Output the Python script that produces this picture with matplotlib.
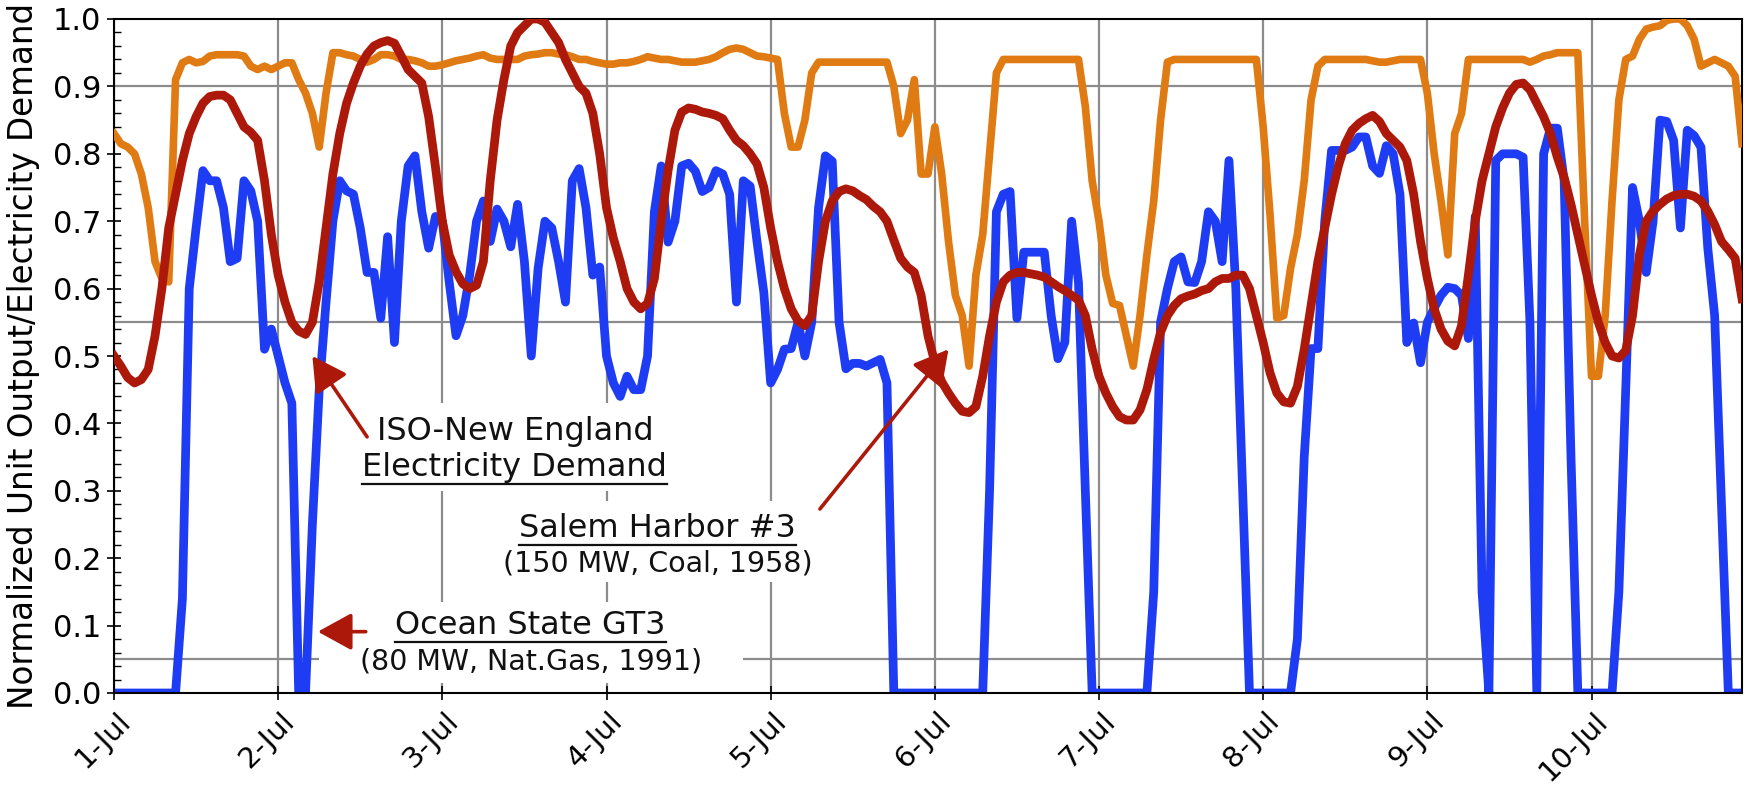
import numpy as np
import matplotlib
matplotlib.use("Agg")
import matplotlib.pyplot as plt
import matplotlib.transforms as mtransforms
from matplotlib.patches import Rectangle
from matplotlib.lines import Line2D
from matplotlib.ticker import MultipleLocator

# hourly values starting 1-Jul 00:00, one row per day
demand = [
    0.50, 0.485, 0.468, 0.46, 0.465, 0.48, 0.53, 0.60, 0.69, 0.74, 0.79, 0.83, 0.855, 0.875, 0.885, 0.887, 0.887, 0.88, 0.86, 0.84, 0.832, 0.82, 0.76, 0.68,
    0.62, 0.58, 0.55, 0.537, 0.532, 0.55, 0.61, 0.69, 0.77, 0.83, 0.875, 0.905, 0.93, 0.948, 0.96, 0.965, 0.968, 0.964, 0.945, 0.925, 0.915, 0.905, 0.855, 0.78,
    0.70, 0.65, 0.625, 0.607, 0.60, 0.605, 0.64, 0.76, 0.85, 0.91, 0.96, 0.98, 0.99, 1.0, 1.0, 0.995, 0.98, 0.965, 0.94, 0.92, 0.90, 0.89, 0.86, 0.80,
    0.72, 0.675, 0.64, 0.60, 0.58, 0.57, 0.578, 0.615, 0.70, 0.775, 0.835, 0.862, 0.868, 0.866, 0.862, 0.86, 0.857, 0.852, 0.835, 0.82, 0.812, 0.80, 0.785, 0.75,
    0.69, 0.64, 0.60, 0.57, 0.552, 0.545, 0.56, 0.64, 0.70, 0.73, 0.744, 0.748, 0.745, 0.738, 0.732, 0.722, 0.714, 0.70, 0.672, 0.645, 0.632, 0.624, 0.59, 0.53,
    0.49, 0.462, 0.445, 0.43, 0.418, 0.416, 0.425, 0.47, 0.53, 0.58, 0.61, 0.62, 0.624, 0.624, 0.622, 0.62, 0.617, 0.61, 0.603, 0.597, 0.59, 0.583, 0.56, 0.51,
    0.47, 0.445, 0.425, 0.41, 0.405, 0.405, 0.42, 0.45, 0.495, 0.535, 0.56, 0.575, 0.585, 0.589, 0.592, 0.597, 0.60, 0.61, 0.615, 0.615, 0.62, 0.62, 0.60, 0.56,
    0.52, 0.475, 0.445, 0.432, 0.43, 0.455, 0.51, 0.575, 0.64, 0.69, 0.74, 0.782, 0.815, 0.835, 0.845, 0.852, 0.857, 0.848, 0.83, 0.82, 0.81, 0.79, 0.74, 0.67,
    0.615, 0.57, 0.54, 0.522, 0.515, 0.545, 0.62, 0.70, 0.76, 0.80, 0.84, 0.868, 0.89, 0.903, 0.905, 0.895, 0.875, 0.855, 0.83, 0.795, 0.765, 0.725, 0.68, 0.635,
    0.59, 0.55, 0.52, 0.50, 0.497, 0.508, 0.56, 0.65, 0.70, 0.715, 0.725, 0.733, 0.738, 0.74, 0.74, 0.737, 0.73, 0.715, 0.695, 0.67, 0.658, 0.645, 0.585,
]

salem = [
    0.83, 0.815, 0.81, 0.80, 0.77, 0.72, 0.64, 0.615, 0.61, 0.91, 0.935, 0.94, 0.935, 0.937, 0.945, 0.947, 0.947, 0.947, 0.947, 0.945, 0.93, 0.925, 0.93, 0.925,
    0.93, 0.935, 0.935, 0.91, 0.89, 0.86, 0.81, 0.89, 0.95, 0.95, 0.947, 0.945, 0.94, 0.936, 0.94, 0.947, 0.947, 0.945, 0.94, 0.94, 0.938, 0.935, 0.93, 0.93,
    0.932, 0.935, 0.938, 0.94, 0.942, 0.945, 0.947, 0.942, 0.94, 0.94, 0.94, 0.94, 0.945, 0.947, 0.948, 0.95, 0.95, 0.948, 0.947, 0.944, 0.94, 0.94, 0.937, 0.935,
    0.933, 0.933, 0.935, 0.935, 0.937, 0.94, 0.944, 0.942, 0.94, 0.94, 0.938, 0.936, 0.936, 0.936, 0.938, 0.94, 0.944, 0.95, 0.955, 0.957, 0.955, 0.95, 0.945, 0.944,
    0.942, 0.94, 0.86, 0.81, 0.81, 0.85, 0.92, 0.936, 0.936, 0.936, 0.936, 0.936, 0.936, 0.936, 0.936, 0.936, 0.936, 0.936, 0.90, 0.83, 0.85, 0.91, 0.77, 0.77,
    0.84, 0.77, 0.67, 0.59, 0.56, 0.485, 0.62, 0.68, 0.80, 0.92, 0.94, 0.94, 0.94, 0.94, 0.94, 0.94, 0.94, 0.94, 0.94, 0.94, 0.94, 0.94, 0.87, 0.76,
    0.70, 0.62, 0.578, 0.575, 0.53, 0.485, 0.56, 0.65, 0.73, 0.85, 0.936, 0.94, 0.94, 0.94, 0.94, 0.94, 0.94, 0.94, 0.94, 0.94, 0.94, 0.94, 0.94, 0.94,
    0.84, 0.71, 0.556, 0.56, 0.63, 0.68, 0.76, 0.88, 0.93, 0.94, 0.94, 0.94, 0.94, 0.94, 0.94, 0.94, 0.938, 0.936, 0.936, 0.938, 0.94, 0.94, 0.94, 0.94,
    0.89, 0.80, 0.73, 0.65, 0.83, 0.86, 0.94, 0.94, 0.94, 0.94, 0.94, 0.94, 0.94, 0.94, 0.94, 0.936, 0.94, 0.945, 0.947, 0.95, 0.95, 0.95, 0.95, 0.70,
    0.47, 0.47, 0.56, 0.73, 0.88, 0.94, 0.945, 0.97, 0.985, 0.988, 0.99, 0.998, 1.0, 1.0, 0.99, 0.97, 0.93, 0.935, 0.94, 0.935, 0.93, 0.915, 0.815,
]

ocean = [
    0, 0, 0, 0, 0, 0, 0, 0, 0, 0, 0.14, 0.60, 0.69, 0.775, 0.76, 0.76, 0.72, 0.64, 0.645, 0.76, 0.745, 0.70, 0.51, 0.54,
    0.50, 0.46, 0.43, 0, 0, 0.25, 0.45, 0.58, 0.70, 0.76, 0.745, 0.74, 0.69, 0.624, 0.624, 0.556, 0.677, 0.52, 0.70, 0.782, 0.797, 0.714, 0.66, 0.707,
    0.70, 0.61, 0.53, 0.56, 0.62, 0.70, 0.73, 0.67, 0.718, 0.70, 0.662, 0.725, 0.64, 0.50, 0.63, 0.70, 0.69, 0.64, 0.58, 0.76, 0.778, 0.72, 0.62, 0.632,
    0.50, 0.46, 0.44, 0.47, 0.45, 0.45, 0.50, 0.714, 0.782, 0.669, 0.70, 0.782, 0.786, 0.774, 0.744, 0.75, 0.775, 0.77, 0.74, 0.58, 0.76, 0.752, 0.67, 0.594,
    0.46, 0.48, 0.51, 0.511, 0.55, 0.50, 0.55, 0.72, 0.797, 0.789, 0.55, 0.481, 0.489, 0.489, 0.485, 0.49, 0.495, 0.46, 0, 0, 0, 0, 0, 0,
    0, 0, 0, 0, 0, 0, 0, 0, 0.30, 0.714, 0.74, 0.744, 0.556, 0.654, 0.654, 0.654, 0.654, 0.56, 0.496, 0.52, 0.70, 0.609, 0.30, 0,
    0, 0, 0, 0, 0, 0, 0, 0, 0.15, 0.55, 0.60, 0.64, 0.647, 0.61, 0.609, 0.64, 0.714, 0.70, 0.64, 0.79, 0.60, 0.30, 0, 0,
    0, 0, 0, 0, 0, 0.08, 0.35, 0.511, 0.511, 0.70, 0.805, 0.805, 0.805, 0.81, 0.825, 0.825, 0.782, 0.771, 0.812, 0.80, 0.74, 0.52, 0.549, 0.49,
    0.55, 0.571, 0.59, 0.602, 0.60, 0.59, 0.526, 0.707, 0.15, 0, 0.79, 0.80, 0.80, 0.80, 0.795, 0.55, 0, 0.80, 0.838, 0.838, 0.76, 0.35, 0, 0,
    0, 0, 0, 0, 0.15, 0.45, 0.75, 0.70, 0.624, 0.70, 0.85, 0.848, 0.82, 0.69, 0.835, 0.827, 0.81, 0.66, 0.56, 0.28, 0, 0, 0,
]

day_labels = ["1-Jul", "2-Jul", "3-Jul", "4-Jul", "5-Jul", "6-Jul", "7-Jul", "8-Jul", "9-Jul", "10-Jul"]
hgrid = [0.05, 0.55, 0.9]

hours = np.arange(len(demand))

orange = "#E07A12"
red = "#AC190B"
blue = "#1E3CF4"
gray = "#8C8C8C"

W, H = 1749, 791
fig = plt.figure(figsize=(W / 100, H / 100), dpi=100)
ax = fig.add_axes([114 / W, 1 - 693 / H, (1742 - 114) / W, (693 - 19) / H])

ax.set_xlim(0, len(demand) - 1)
ax.set_ylim(0, 1.0)

# grid: one vertical line per day, three horizontal reference lines
ax.set_xticks(np.arange(len(day_labels)) * 24)
ax.set_xticklabels(day_labels)
ax.grid(axis="x", color=gray, lw=1.6, zorder=0.5)
ax.set_axisbelow(True)
for yv in hgrid:
    ax.axhline(yv, color=gray, lw=1.6, zorder=0.6)

# white panels behind the annotation text
for x0, y0, x1, y1 in [(35, 0.30, 82, 0.43), (56, 0.165, 103, 0.285), (30, 0.015, 92, 0.135)]:
    ax.add_patch(Rectangle((x0, y0), x1 - x0, y1 - y0, facecolor="white", edgecolor="none", zorder=1))

ax.plot(hours, ocean, color=blue, lw=6.3, zorder=2)
ax.plot(hours, salem, color=orange, lw=5.5, zorder=3)
ax.plot(hours, demand, color=red, lw=6.3, zorder=4)

ax.set_yticks(np.arange(0, 1.01, 0.1))
ax.set_yticklabels([f"{v:.1f}" for v in np.arange(0, 1.01, 0.1)])
ax.yaxis.set_minor_locator(MultipleLocator(0.02))
ax.tick_params(axis="y", which="major", direction="inout", length=10, width=1.2, labelsize=22, pad=4)
ax.tick_params(axis="y", which="minor", direction="in", length=5, width=1)
ax.tick_params(axis="x", which="major", direction="inout", length=10, width=1.2, labelsize=21, pad=12)
shift = mtransforms.ScaledTranslation(0.12, 0, fig.dpi_scale_trans)
for lab in ax.get_xticklabels():
    lab.set_rotation(45)
    lab.set_ha("right")
    lab.set_va("center")
    lab.set_rotation_mode("anchor")
    lab.set_transform(lab.get_transform() + shift)

for s in ax.spines.values():
    s.set_linewidth(1.5)
    s.set_color("black")

fig.text(24 / W, 1 - 356 / H, "Normalized Unit Output/Electricity Demand",
         rotation=90, ha="center", va="center", fontsize=23.5)

# labels: (text, x, baseline, size, underline)
labels = [
    ("ISO-New England", 58.6, 0.376, 23, False),
    ("Electricity Demand", 58.6, 0.322, 23, True),
    ("Salem Harbor #3", 79.4, 0.232, 23, True),
    ("(150 MW, Coal, 1958)", 79.5, 0.181, 20.5, False),
    ("Ocean State GT3", 60.9, 0.087, 23, True),
    ("(80 MW, Nat.Gas, 1991)", 61.0, 0.035, 20.5, False),
]
txts = []
for s, x, y, fs, ul in labels:
    t = ax.text(x, y, s, ha="center", va="baseline", fontsize=fs, color="#111111", zorder=5)
    txts.append((t, y, ul))

arrows = [((29.0, 0.50), (37.0, 0.38)), ((122.0, 0.51), (103.2, 0.273)), ((29.8, 0.091), (36.8, 0.091))]
for tip, tail in arrows:
    ax.annotate("", xy=tip, xytext=tail, zorder=6,
                arrowprops=dict(arrowstyle="-|>,head_length=1.0,head_width=0.55", mutation_scale=21,
                                color=red, lw=2.6, shrinkA=0, shrinkB=0))

fig.canvas.draw()
r = fig.canvas.get_renderer()
inv = ax.transData.inverted()
for t, y, ul in txts:
    if not ul:
        continue
    bb = t.get_window_extent(renderer=r)
    xa = inv.transform((bb.x0, 0))[0]
    xb = inv.transform((bb.x1, 0))[0]
    ax.add_line(Line2D([xa, xb], [y - 0.012, y - 0.012], color="#111111", lw=1.6, zorder=5))

fig.savefig("out.png", dpi=100)
